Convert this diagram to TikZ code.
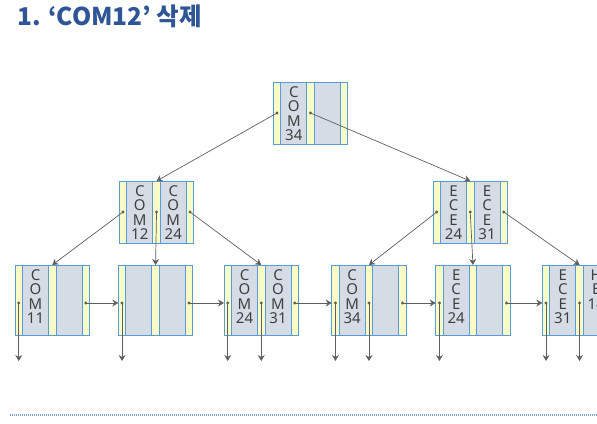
\documentclass[tikz,border=0pt]{standalone}
\usepackage{fontspec}
\setmainfont{Noto Sans}
\newfontfamily\kofont{Noto Sans CJK KR}
\usetikzlibrary{positioning, arrows.meta}
\definecolor{cellblue}{HTML}{5B9BD5}
\definecolor{stripyellow}{HTML}{FAFCC8}
\definecolor{keygray}{HTML}{D6DCE5}
\definecolor{textgray}{HTML}{404040}
\definecolor{linegray}{HTML}{5F5F5F}
\definecolor{titleblue}{HTML}{2F5597}
\definecolor{ruleblue}{HTML}{7F9CD0}

\tikzstyle{pstrip} = [rectangle, draw=cellblue, fill=stripyellow, line width=0.8pt, minimum width=7.5pt, inner sep=0pt, outer sep=0pt]
\tikzstyle{keytext} = [anchor=north, yshift=-4.5pt, inner sep=0pt, align=center, text=textgray, font=\fontsize{15}{14.3}\selectfont]
\tikzset{keycell/.style={rectangle, draw=cellblue, fill=keygray, line width=0.8pt, minimum width=26pt, inner sep=0pt, outer sep=0pt, label={[keytext]north:{#1}}}}
\tikzstyle{ptr} = [draw=linegray, line width=0.7pt, -{Stealth[length=6pt, width=7pt, inset=2pt]}]
\tikzstyle{ptrdot} = [fill=linegray]

% one tree node: name, top left corner, height, key 1, key 2
\newcommand{\btnode}[5]{%
  \node [pstrip, minimum height=#3, anchor=north west] (#1-p0) at (#2) {};
  \node [keycell={#4}, minimum height=#3, right=0pt of #1-p0] (#1-k1) {};
  \node [pstrip, minimum height=#3, right=0pt of #1-k1] (#1-p1) {};
  \node [keycell={#5}, minimum height=#3, right=0pt of #1-p1] (#1-k2) {};
  \node [pstrip, minimum height=#3, right=0pt of #1-k2] (#1-p2) {};
}

\begin{document}
\begin{tikzpicture}[x=1pt, y=-1pt]
  \useasboundingbox (0,0) rectangle (597,423);
  \clip (0,0) rectangle (597,423);

  \node [anchor=base west, inner sep=0pt, text=titleblue, font=\kofont\fontsize{24.5}{28}\selectfont\bfseries] (title) at (17,25) {1. ‘COM12’ 삭제};

  % root and inner level
  \btnode{root}{273.3,82}{62pt}{C\\O\\M\\34}{}
  \btnode{cl}{119.3,181}{62pt}{C\\O\\M\\12}{C\\O\\M\\24}
  \btnode{cr}{433,181}{62pt}{E\\C\\E\\24}{E\\C\\E\\31}

  % leaves
  \btnode{l1}{15,265}{70pt}{C\\O\\M\\11}{}
  \btnode{l2}{118.3,265}{70pt}{}{}
  \btnode{l3}{224,265}{70pt}{C\\O\\M\\24}{C\\O\\M\\31}
  \btnode{l4}{331.7,265}{70pt}{C\\O\\M\\34}{}
  \btnode{l5}{435.7,265}{70pt}{E\\C\\E\\24}{}
  \btnode{l6}{542.3,265}{70pt}{E\\C\\E\\31}{H\\E\\14}

  \draw [ptr] (root-p0.center) -- (cl-p1.north);
  \draw [ptr] (root-p1.center) -- (cr-p1.north);
  \draw [ptr] (cl-p0.center) -- (l1-p1.north);
  \draw [ptr] (cl-p1.center) -- (l2-p1.north);
  \draw [ptr] (cl-p2.center) -- (l3-p1.north);
  \draw [ptr] (cr-p0.center) -- (l4-p1.north);
  \draw [ptr] (cr-p1.center) -- (l5-p1.north);
  \draw [ptr] (cr-p2.center) -- (l6-p1.north);

  % leaf chain
  \foreach \a/\b in {l1/l2, l2/l3, l3/l4, l4/l5, l5/l6}
    \draw [ptr] ([yshift=-3pt]\a-p2.center) -- ([yshift=-3pt]\b-p0.west);

  % record pointers
  \foreach \p in {l1-p0, l2-p0, l3-p0, l3-p1, l4-p0, l4-p1, l5-p0, l6-p0, l6-p1} {
    \coordinate [below=26pt of \p] (\p-end);
    \draw [ptr] ([yshift=-3pt]\p.center) -- (\p-end);
  }

  \foreach \p in {root-p0, root-p1, cl-p0, cl-p1, cl-p2, cr-p0, cr-p1, cr-p2}
    \fill [ptrdot] (\p) circle (1.6pt);
  \foreach \p in {l1-p0, l1-p2, l2-p0, l2-p2, l3-p0, l3-p1, l3-p2,
                  l4-p0, l4-p1, l4-p2, l5-p0, l5-p2, l6-p0, l6-p1}
    \fill [ptrdot] ([yshift=-3pt]\p.center) circle (1.6pt);

  \draw [ruleblue, line width=1.2pt, dash pattern=on 1.2pt off 0.8pt] (10,415) -- (597,415);
\end{tikzpicture}
\end{document}
